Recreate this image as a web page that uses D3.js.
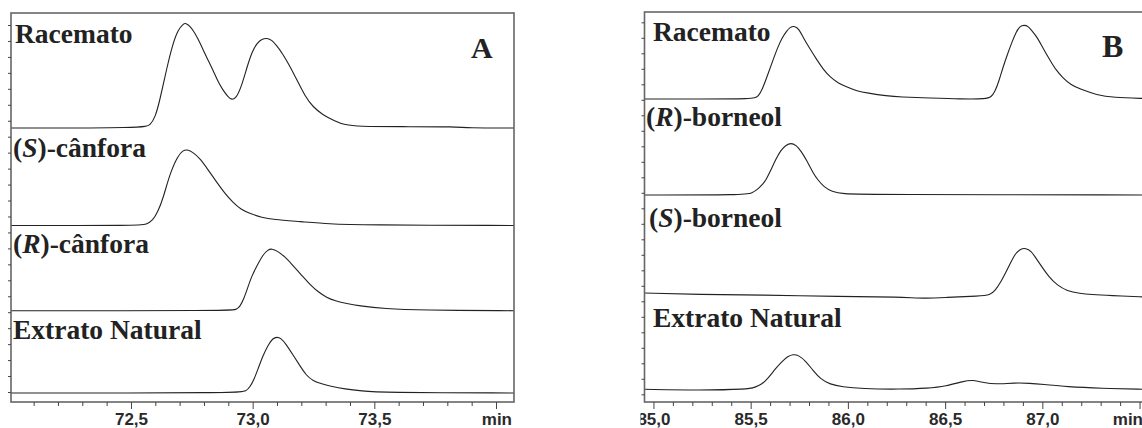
<!DOCTYPE html>
<html>
<head>
<meta charset="utf-8">
<script src="https://cdn.jsdelivr.net/npm/d3@7"></script>
<style>
body { margin: 0; background: #fff; }
.lbl { font-family: "Liberation Serif", "Times New Roman", serif; font-weight: bold; font-size: 27.5px; fill: #222; }
.tag { font-family: "Liberation Serif", "Times New Roman", serif; font-weight: bold; fill: #222; }
.axis text { font-family: "Liberation Sans", Arial, sans-serif; font-weight: bold; font-size: 17px; fill: #2a2a2a; }
.axis line { stroke: #444; }
.trace { fill: none; stroke: #222; stroke-width: 1.1px; }
</style>
</head>
<body>
<div id="chart"></div>
<script>
// --- data (time in min, signal in arbitrary units) ---
var labelsA = ["Racemato", "(S)-cânfora", "(R)-cânfora", "Extrato Natural"];
var labelsB = ["Racemato", "(R)-borneol", "(S)-borneol", "Extrato Natural"];
var ticksA = [72.5, 73.0, 73.5];
var ticksB = [85.0, 85.5, 86.0, 86.5, 87.0];

var racematoA = [[72.007,0],[72.558,0],[72.578,3],[72.599,10],[72.619,28],[72.648,61],[72.673,85],[72.693,98],
  [72.714,104],[72.726,105],[72.742,102],[72.763,95],[72.784,85],[72.812,70],[72.837,58],[72.858,46],[72.878,38],
  [72.899,31],[72.915,28],[72.932,30],[72.952,40],[72.977,61],[72.997,76],[73.018,85],[73.038,89],[73.059,90],
  [73.079,88],[73.100,82],[73.121,75],[73.153,62],[73.182,48],[73.215,32],[73.248,21],[73.289,13],[73.338,7],
  [73.379,3],[73.433,1.5],[73.605,1.3],[73.844,1.3],[73.873,0],[74.074,0]];
var sCanfora = [[72.007,0],[72.537,0],[72.562,1],[72.590,5],[72.611,14],[72.632,27],[72.660,52],[72.693,70],
  [72.714,75],[72.730,76],[72.751,74],[72.784,67],[72.816,56],[72.853,43],[72.886,32],[72.919,23],[72.952,16],
  [72.989,12],[73.038,8],[73.084,6],[73.195,4],[73.318,1.5],[73.441,0.5],[74.074,0]];
var rCanfora = [[72.007,0],[72.907,0],[72.932,1],[72.948,4],[72.964,12],[72.981,24],[72.997,35],[73.018,45],
  [73.042,56],[73.063,61],[73.079,62],[73.100,60],[73.133,54],[73.166,45],[73.203,35],[73.236,26],[73.268,19],
  [73.305,13],[73.338,10],[73.388,7],[73.433,5],[73.544,2],[73.688,0.5],[74.074,0]];
var extratoA = [[72.007,0],[72.952,0],[72.973,2],[72.989,6],[73.005,13],[73.022,24],[73.042,37],[73.063,48],
  [73.084,55],[73.100,56],[73.116,55],[73.137,49],[73.166,38],[73.195,27],[73.219,18],[73.248,12],[73.285,9],
  [73.318,7],[73.379,4],[73.449,2],[73.523,0.5],[74.074,0]];

var racematoB = [[84.954,0],[85.239,0],[85.512,0],[85.538,2],[85.563,11],[85.589,25],[85.615,39],[85.640,52],
  [85.661,61],[85.682,67],[85.702,72],[85.728,73],[85.748,70],[85.769,62],[85.805,50],[85.841,39],[85.872,30],
  [85.908,22],[85.949,16],[85.995,12],[86.047,8],[86.098,6],[86.201,3],[86.268,2],[86.423,1],[86.577,0],
  [86.715,0],[86.736,2],[86.756,7],[86.777,18],[86.798,32],[86.823,46],[86.844,57],[86.865,67],[86.885,73],
  [86.906,74],[86.926,73],[86.947,68],[86.973,62],[87.003,51],[87.039,39],[87.070,29],[87.106,21],[87.148,14],
  [87.193,10],[87.281,4],[87.363,1.5],[87.528,0.5]];
var rBorneol = [[84.954,0],[85.471,0],[85.507,2],[85.538,6],[85.563,11],[85.579,15],[85.604,25],[85.630,36],
  [85.656,45],[85.682,50],[85.707,52],[85.733,50],[85.759,44],[85.790,34],[85.821,22],[85.846,15],[85.877,8],
  [85.918,3.5],[85.970,1],[86.114,0.5],[87.528,0]];
var sBorneol = [[84.954,0],[85.239,-1.5],[85.548,-2],[85.970,-3.5],[86.268,-4],[86.397,-5.5],[86.500,-4.5],
  [86.680,-3],[86.731,-2],[86.756,2],[86.787,11],[86.813,21],[86.839,31],[86.860,39],[86.885,44],[86.916,45],
  [86.942,42],[86.967,35],[86.998,26],[87.034,16],[87.075,8],[87.127,2],[87.194,-0.5],[87.251,-1.5],
  [87.349,-2.5],[87.528,-4]];
var extratoB = [[84.954,0],[85.239,-1],[85.486,0],[85.522,2],[85.558,5],[85.589,11],[85.625,20],[85.661,28],
  [85.692,33],[85.717,35],[85.748,34],[85.784,28],[85.820,19],[85.861,10],[85.908,5],[85.969,2.5],[86.072,0.5],
  [86.268,0],[86.412,1],[86.505,3],[86.592,8],[86.644,9.5],[86.700,6.5],[86.757,5],[86.860,6.5],[86.937,6],
  [86.999,5],[87.127,2.5],[87.302,1],[87.528,0]];

// --- layout ---
var W = 1142, H = 428;
var svg = d3.select("#chart").append("svg")
    .attr("width", W)
    .attr("height", H);

var fmt = function(v) { return d3.format(".1f")(v).replace(".", ","); };

var panels = [
  { id: "A", x0: 11, x1: 514, top: 13, axisY: 402, domain: [72.007, 74.074],
    minor: d3.range(721, 741).map(function(v){ return v / 10; }), majors: ticksA, minTick: 74.0,
    yTicks: [0, 23], yRange: [392, 25],
    traces: [racematoA, sCanfora, rCanfora, extratoA], bases: [128, 225.5, 310.7, 393],
    labels: labelsA, labelPos: [[15, 43], [13, 157], [13, 253], [13, 339]],
    tag: [471, 58, 30], clip: null },
  { id: "B", x0: 644.5, x1: 1145, top: 12, axisY: 402, domain: [84.954, 87.528],
    minor: d3.range(850, 876).map(function(v){ return v / 10; }), majors: ticksB, minTick: 87.5,
    yTicks: [0, 24], yRange: [394.3, 22.3],
    traces: [racematoB, rBorneol, sBorneol, extratoB], bases: [99, 195, 293, 389.3],
    labels: labelsB, labelPos: [[653, 41], [646, 126], [649, 227], [653, 327]],
    tag: [1102, 57, 32], clip: 640.5 }
];

panels.forEach(function(p) {
  var g = svg.append("g");
  if (p.clip) {
    svg.append("clipPath").attr("id", "clip" + p.id)
      .append("rect").attr("x", p.clip).attr("y", 0).attr("width", W - p.clip).attr("height", H);
    g.attr("clip-path", "url(#clip" + p.id + ")");
  }

  var x = d3.scaleLinear().domain(p.domain).range([p.x0, p.x1]);
  var yAx = d3.scaleLinear().domain(p.yTicks).range(p.yRange);

  // traces
  p.traces.forEach(function(tr, i) {
    var yb = d3.scaleLinear().domain([0, 100]).range([p.bases[i], p.bases[i] - 100]);
    var line = d3.line()
      .x(function(d) { return x(d[0]); })
      .y(function(d) { return yb(d[1]); })
      .curve(d3.curveBasis);
    g.append("path").datum(tr).attr("class", "trace").attr("d", line);
  });

  // frame
  g.append("rect")
    .attr("x", p.x0).attr("y", p.top)
    .attr("width", p.x1 - p.x0).attr("height", p.axisY - p.top)
    .attr("fill", "none").attr("stroke", "#666").attr("stroke-width", 1.6);

  // x axis
  var isMajor = function(d) {
    return p.majors.some(function(m) { return Math.abs(m - d) < 1e-6; });
  };
  var xAxis = d3.axisBottom(x)
    .tickValues(p.minor)
    .tickSize(4)
    .tickSizeOuter(0)
    .tickFormat(function(d) { return isMajor(d) ? fmt(d) : ""; });
  var xg = g.append("g").attr("class", "axis")
    .attr("transform", "translate(0," + p.axisY + ")")
    .call(xAxis);
  xg.select(".domain").remove();
  xg.selectAll(".tick").each(function(d) {
    var major = isMajor(d) || Math.abs(d - p.minTick) < 1e-6;
    d3.select(this).select("line").attr("y2", major ? 7 : 4);
    d3.select(this).select("text").attr("y", 22.5).attr("dy", 0);
  });
  xg.append("text")
    .attr("x", p.x1 - 2).attr("y", 22.5)
    .attr("text-anchor", "end")
    .text("min");

  // y ticks (no labels)
  var yg = g.append("g").attr("class", "axis")
    .attr("transform", "translate(" + p.x0 + ",0)")
    .call(d3.axisLeft(yAx).ticks(p.yTicks[1]).tickSize(3).tickSizeOuter(0).tickFormat(""));
  yg.select(".domain").remove();

  // trace labels
  p.labels.forEach(function(s, i) {
    var t = g.append("text").attr("class", "lbl")
      .attr("x", p.labelPos[i][0]).attr("y", p.labelPos[i][1]);
    var m = s.match(/^\((\w)\)(.*)$/);
    if (m) {
      t.append("tspan").text("(");
      t.append("tspan").attr("font-style", "italic").text(m[1]);
      t.append("tspan").text(")" + m[2]);
    } else {
      t.text(s);
    }
  });

  g.append("text").attr("class", "tag")
    .attr("x", p.tag[0]).attr("y", p.tag[1])
    .style("font-size", p.tag[2] + "px")
    .text(p.id);
});
</script>
</body>
</html>
